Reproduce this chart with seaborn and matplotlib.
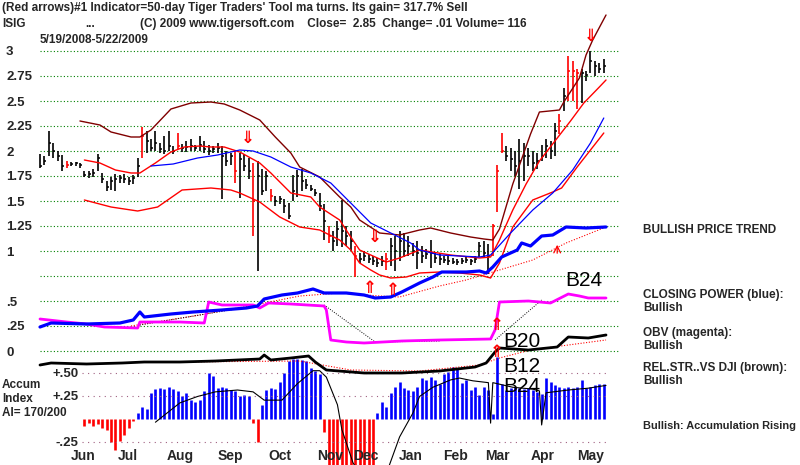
import numpy as np
import pandas as pd
import seaborn as sns
import matplotlib
matplotlib.use("Agg")
import matplotlib.pyplot as plt

# ---- price bars, one bar every 2 trading days from 5/19/2008 ----
bar_day = np.arange(0, 256, 2)
bar_high = [1.97, 1.95, 2.20, 2.08, 2.00, 1.96, 1.90, 1.89, 1.89, 1.88,
            1.80, 1.80, 1.82, 1.97, 1.78, 1.70, 1.74, 1.77, 1.76, 1.77,
            1.74, 1.76, 1.93, 2.24, 2.20, 2.12, 2.20, 2.08, 2.15, 2.20,
            2.05, 2.18, 2.07, 2.10, 2.12, 2.06, 2.15, 2.10, 2.06, 2.05,
            2.08, 2.05, 2.00, 1.98, 2.00, 1.98, 1.97, 1.93, 1.88, 1.90,
            1.82, 1.80, 1.62, 1.55, 1.55, 1.52, 1.48, 1.76, 1.81, 1.82,
            1.72, 1.66, 1.62, 1.58, 1.47, 1.25, 1.20, 1.30, 1.51, 1.25,
            1.20, 1.05, 0.98, 1.00, 0.97, 0.95, 0.93, 0.95, 0.98, 1.13,
            1.15, 1.20, 1.18, 1.15, 1.08, 1.10, 1.05, 1.02, 1.11, 0.98,
            0.98, 0.95, 0.95, 0.93, 0.92, 0.93, 0.95, 0.92, 0.95, 1.09,
            1.10, 1.07, 1.27, 1.86, 2.18, 2.05, 2.03, 2.00, 2.12, 2.08,
            2.03, 2.00, 1.98, 2.06, 2.12, 2.10, 2.28, 2.37, 2.63, 2.95,
            2.90, 2.82, 2.82, 2.80, 3.00, 2.90, 2.88, 2.92]
bar_low = [1.83, 1.86, 1.95, 1.93, 1.90, 1.80, 1.83, 1.85, 1.85, 1.83,
           1.74, 1.73, 1.74, 1.80, 1.68, 1.60, 1.61, 1.60, 1.68, 1.68,
           1.66, 1.67, 1.74, 1.93, 1.98, 2.00, 2.00, 1.98, 1.97, 2.00,
           1.97, 2.02, 1.99, 1.99, 2.00, 2.00, 2.00, 1.98, 1.96, 1.98,
           1.98, 1.52, 1.85, 1.86, 1.68, 1.53, 1.80, 1.72, 1.15, 0.80,
           1.56, 1.60, 1.50, 1.45, 1.47, 1.38, 1.32, 1.50, 1.54, 1.60,
           1.62, 1.60, 1.55, 1.40, 1.11, 1.08, 1.00, 1.05, 1.04, 1.05,
           1.00, 0.74, 0.88, 0.90, 0.88, 0.86, 0.84, 0.85, 0.81, 0.85,
           0.80, 0.90, 0.94, 0.95, 0.95, 0.82, 0.88, 0.92, 0.83, 0.88,
           0.86, 0.88, 0.86, 0.87, 0.86, 0.87, 0.88, 0.86, 0.88, 0.94,
           0.93, 0.77, 0.95, 1.39, 1.98, 1.90, 1.80, 1.75, 1.62, 1.70,
           1.85, 1.80, 1.82, 1.90, 1.93, 1.92, 1.95, 2.17, 2.40, 2.50,
           2.50, 2.42, 2.48, 2.70, 2.78, 2.75, 2.78, 2.78]
bar_close = [1.85, 1.90, 2.08, 2.00, 1.95, 1.85, 1.86, 1.87, 1.88, 1.86,
             1.76, 1.77, 1.78, 1.93, 1.72, 1.64, 1.70, 1.72, 1.73, 1.72,
             1.70, 1.73, 1.85, 2.15, 2.10, 2.03, 2.08, 2.02, 2.00, 2.05,
             2.00, 2.05, 2.03, 2.04, 2.05, 2.03, 2.06, 2.02, 2.00, 2.02,
             2.03, 1.95, 1.90, 1.95, 1.80, 1.92, 1.85, 1.80, 1.50, 1.75,
             1.60, 1.75, 1.55, 1.50, 1.52, 1.45, 1.35, 1.60, 1.75, 1.70,
             1.66, 1.62, 1.58, 1.45, 1.30, 1.15, 1.10, 1.22, 1.20, 1.15,
             1.10, 0.95, 0.92, 0.95, 0.92, 0.90, 0.88, 0.90, 0.92, 1.05,
             1.00, 1.10, 1.00, 1.05, 1.00, 0.98, 0.95, 0.97, 0.98, 0.93,
             0.92, 0.91, 0.90, 0.89, 0.89, 0.90, 0.91, 0.90, 0.92, 1.05,
             0.98, 0.95, 1.25, 1.80, 2.00, 1.95, 1.92, 1.85, 1.90, 1.95,
             1.95, 1.88, 1.90, 1.95, 2.05, 2.00, 2.20, 2.30, 2.55, 2.80,
             2.80, 2.78, 2.78, 2.76, 2.90, 2.85, 2.82, 2.85]
red_bars = [6, 23, 31, 44, 48, 52, 65, 71, 78, 102, 103, 104, 117, 119, 120, 121]

# ---- bands and moving averages (price units) ----
upper_day = [18, 27, 32, 41, 45, 50, 59, 68, 77, 83, 90, 99, 106, 113, 117, 126, 135, 140,
             144, 153, 162, 171, 176, 185, 194, 200, 204, 207, 213, 221, 225, 234, 236, 243,
             246, 249, 255]
upper_val = [2.30, 2.26, 2.19, 2.14, 2.14, 2.21, 2.42, 2.48, 2.49, 2.47, 2.41, 2.31, 2.14,
             1.98, 1.84, 1.74, 1.54, 1.44, 1.31, 1.18, 1.16, 1.21, 1.23, 1.18, 1.14, 1.12,
             1.11, 1.22, 1.67, 2.17, 2.39, 2.41, 2.49, 2.73, 2.96, 3.11, 3.36]
mid_day = [20, 27, 34, 41, 45, 52, 59, 65, 72, 77, 83, 90, 99, 104, 113, 122, 126, 135,
           140, 144, 149, 156, 162, 171, 185, 198, 203, 207, 213, 219, 225, 232, 239, 245,
           252, 255]
mid_val = [1.91, 1.88, 1.81, 1.78, 1.78, 1.88, 1.99, 2.04, 2.05, 2.04, 2.04, 1.99, 1.88,
           1.78, 1.58, 1.54, 1.44, 1.31, 1.14, 1.01, 0.96, 0.89, 0.93, 1.01, 0.96, 0.93,
           0.94, 1.11, 1.41, 1.67, 1.90, 2.10, 2.30, 2.48, 2.64, 2.71]
lower_day = [20, 32, 44, 53, 64, 77, 86, 90, 99, 108, 117, 126, 135, 140, 144, 149, 153,
             158, 165, 171, 180, 189, 198, 203, 207, 213, 222, 231, 235, 242, 248, 254]
lower_val = [1.51, 1.44, 1.40, 1.44, 1.61, 1.63, 1.61, 1.58, 1.49, 1.34, 1.24, 1.21, 1.11,
             1.01, 0.88, 0.81, 0.76, 0.73, 0.74, 0.78, 0.79, 0.78, 0.76, 0.73, 0.88, 1.24,
             1.51, 1.59, 1.63, 1.84, 2.01, 2.18]
ma50_day = [50, 60, 71, 80, 90, 96, 104, 113, 122, 131, 140, 149, 158, 167, 171, 180, 189,
            198, 203, 212, 222, 231, 240, 248, 254]
ma50_val = [1.85, 1.87, 1.93, 1.96, 2.01, 2.00, 1.94, 1.84, 1.78, 1.68, 1.48, 1.28, 1.18,
            1.08, 1.01, 0.96, 0.95, 0.94, 0.96, 1.18, 1.41, 1.58, 1.81, 2.08, 2.33]

# ---- closing power, OBV, relative strength (plotted in price units) ----
cp_day = [0, 5, 21, 36, 42, 45, 47, 59, 69, 82, 93, 98, 101, 109, 116, 123, 128, 138, 146,
          151, 158, 163, 171, 177, 181, 192, 198, 201, 204, 208, 215, 217, 221, 226, 231,
          237, 246, 255]
cp_val = [0.24, 0.28, 0.27, 0.28, 0.31, 0.39, 0.34, 0.37, 0.39, 0.41, 0.43, 0.45, 0.52,
          0.56, 0.58, 0.62, 0.58, 0.58, 0.56, 0.53, 0.54, 0.59, 0.68, 0.74, 0.79, 0.79,
          0.80, 0.78, 0.84, 0.94, 1.01, 1.08, 1.05, 1.15, 1.16, 1.24, 1.23, 1.24]
cp_ma_day = [41, 72, 99, 117, 135, 153, 162, 180, 192, 207, 222, 237, 255]
cp_ma_val = [0.25, 0.36, 0.47, 0.55, 0.58, 0.55, 0.54, 0.65, 0.71, 0.81, 0.91, 1.08, 1.24]
obv_day = [0, 12, 21, 29, 44, 45, 63, 74, 76, 82, 96, 99, 103, 113, 128, 129, 131, 138,
           146, 163, 180, 203, 205, 207, 220, 230, 238, 243, 247, 255]
obv_val = [0.32, 0.29, 0.27, 0.24, 0.23, 0.29, 0.29, 0.28, 0.49, 0.46, 0.46, 0.43, 0.48,
           0.47, 0.45, 0.41, 0.11, 0.09, 0.08, 0.10, 0.11, 0.12, 0.21, 0.49, 0.50, 0.48,
           0.57, 0.55, 0.53, 0.53]
rs_day = [0, 5, 21, 37, 47, 63, 79, 99, 101, 104, 113, 121, 124, 129, 146, 163, 180, 196,
          201, 205, 207, 220, 233, 238, 247, 255]
rs_val = [-0.14, -0.12, -0.13, -0.12, -0.11, -0.11, -0.10, -0.08, -0.04, -0.09, -0.07,
          -0.05, -0.11, -0.19, -0.22, -0.22, -0.20, -0.16, -0.12, -0.01, 0.03, 0.01, 0.04,
          0.14, 0.13, 0.16]
rs_ma_day = [60, 117, 140, 171, 198, 207, 221, 255]
rs_ma_val = [-0.11, -0.10, -0.19, -0.20, -0.14, -0.07, 0.01, 0.11]
trend_lines = [([45, 99], [0.26, 0.46]), ([128, 151, 180], [0.46, 0.09, 0.10]),
               ([205, 226], [0.11, 0.51])]

# ---- accumulation index ----
ai_day = np.arange(20, 256, 2)
ai_val = [-0.08, -0.05, -0.08, -0.06, -0.10, -0.12, -0.25, -0.34, -0.24, -0.18,
          -0.10, -0.03, 0.06, 0.13, 0.10, 0.28, 0.32, 0.33, 0.32, 0.34,
          0.32, 0.30, 0.24, 0.28, 0.20, 0.18, 0.20, 0.30, 0.50, 0.46,
          0.33, 0.34, 0.33, 0.31, 0.30, 0.25, 0.26, 0.25, -0.05, -0.26,
          0.15, 0.31, 0.33, 0.32, 0.40, 0.50, 0.62, 0.65, 0.65, 0.64,
          0.62, 0.55, 0.52, 0.48, -0.15, -0.58, -0.62, -0.65, -0.60, -0.70,
          -0.66, -0.60, -0.64, -0.60, -0.58, -0.55, 0.06, 0.18, 0.13, 0.28,
          0.34, 0.40, 0.33, 0.31, 0.30, 0.34, 0.44, 0.42, 0.45, 0.42,
          0.38, 0.48, 0.51, 0.56, 0.54, 0.39, 0.42, 0.31, 0.34, 0.26,
          0.34, 0.31, 0.05, 0.67, 0.38, 0.31, 0.33, 0.34, 0.33, 0.32,
          0.33, 0.31, 0.29, 0.27, 0.44, 0.40, 0.36, 0.34, 0.33, 0.34,
          0.33, 0.34, 0.42, 0.33, 0.34, 0.36, 0.38, 0.38]
ai_ma_day = [52, 63, 71, 79, 89, 96, 101, 109, 116, 123, 126, 129, 134, 136, 141, 144, 156,
             162, 168, 171, 177, 185, 189, 195, 202, 203, 204, 213, 222, 225, 226, 228, 238,
             247, 255]
ai_ma_val = [-0.04, 0.17, 0.24, 0.29, 0.31, 0.29, 0.20, 0.20, 0.38, 0.52, 0.52, 0.45, 0.15,
             -0.12, -0.48, -0.60, -0.60, -0.20, 0.06, 0.24, 0.34, 0.42, 0.44, 0.41, 0.39,
             -0.05, 0.39, 0.34, 0.32, 0.30, -0.07, 0.28, 0.31, 0.33, 0.36]

price_ticks = [3, 2.75, 2.5, 2.25, 2, 1.75, 1.5, 1.25, 1, 0.5, 0.25, 0]
price_labels = ['3', '2.75', '2.5', '2.25', '2', '1.75', '1.5', '1.25', '1', '.5', '.25', '0']
grid_levels = [3, 2.75, 2.5, 2.25, 2, 1.75, 1.5, 1.25, 1, 0.75, 0.5, 0.25, 0]
ai_ticks = [0.5, 0.25, -0.25]
ai_labels = ['+.50', '+.25', '-.25']
month_day = [19.4, 39.6, 63.1, 85.6, 108.1, 130.6, 146.8, 167.1, 187.4, 206.3, 226.6, 248.2]
month_labels = ['Jun', 'Jul', 'Aug', 'Sep', 'Oct', 'Nov', 'Dec', 'Jan', 'Feb', 'Mar', 'Apr', 'May']

down_arrows = [(93.7, 2.13), (150.7, 1.14), (248.0, 3.15)]
up_arrows = [(148.4, 0.63), (158.8, 0.61), (205.9, 0.26), (205.9, -0.01)]
signal_labels = [('B24', 236.5, 0.70), ('B20', 208.5, 0.10), ('B12', 208.5, -0.15), ('B24', 208.5, -0.35)]

sns.set_theme(style="white")
plt.rcParams['font.family'] = ['Liberation Sans', 'DejaVu Sans']

fig = plt.figure(figsize=(8, 4.65), dpi=100)
pos = [38 / 800, 0, 582 / 800, 1]
ax_ai = fig.add_axes(pos)
ax = fig.add_axes(pos, sharex=ax_ai)
ax.patch.set_alpha(0)

# accumulation index histogram
ai_col = ['#0000ff' if v >= 0 else '#ff0000' for v in ai_val]
ax_ai.vlines(ai_day, 0, ai_val, colors=ai_col, lw=1.9)
sns.lineplot(x=ai_ma_day, y=ai_ma_val, ax=ax_ai, color='black', lw=0.8, estimator=None, sort=False)
ax_ai.hlines(ai_ticks, 19, 256, colors='#a06080', linestyles=(0, (1, 4)), lw=0.8)
ax_ai.set_ylim(-0.505, 4.549)
ax_ai.set_yticks(ai_ticks)
ax_ai.set_yticklabels(ai_labels, fontsize=9.5, fontweight='bold')
ax_ai.tick_params(axis='y', length=0, pad=-29)
ax_ai.tick_params(axis='x', length=0, labelbottom=False)

# price panel
ax.hlines(grid_levels, 0, 261, colors='#008000', linestyles=(0, (1, 2)), lw=0.8)
bar_col = ['#ff0000' if i in red_bars else 'black' for i in range(len(bar_day))]
ax.vlines(bar_day, bar_low, bar_high, colors=bar_col, lw=1.2)
ax.hlines(bar_close, bar_day, bar_day + 0.9, colors=bar_col, lw=1.1)

sns.lineplot(x=upper_day, y=upper_val, ax=ax, color='#800000', lw=1.0, estimator=None, sort=False)
sns.lineplot(x=mid_day, y=mid_val, ax=ax, color='#ff0000', lw=1.0, estimator=None, sort=False)
sns.lineplot(x=lower_day, y=lower_val, ax=ax, color='#ff0000', lw=1.0, estimator=None, sort=False)
sns.lineplot(x=ma50_day, y=ma50_val, ax=ax, color='#0000ff', lw=0.9, estimator=None, sort=False)

sns.lineplot(x=cp_ma_day, y=cp_ma_val, ax=ax, color='#ff0000', lw=0.8, ls=(0, (1, 1.5)), estimator=None, sort=False)
sns.lineplot(x=rs_ma_day, y=rs_ma_val, ax=ax, color='#ff0000', lw=0.8, ls=(0, (1, 1.5)), estimator=None, sort=False)
for tx, ty in trend_lines:
    sns.lineplot(x=tx, y=ty, ax=ax, color='black', lw=0.7, ls=(0, (1, 1.5)), estimator=None, sort=False)
sns.lineplot(x=obv_day, y=obv_val, ax=ax, color='#ff00ff', lw=2.0, estimator=None, sort=False)
sns.lineplot(x=cp_day, y=cp_val, ax=ax, color='#0000ff', lw=2.3, estimator=None, sort=False)
sns.lineplot(x=rs_day, y=rs_val, ax=ax, color='black', lw=2.0, estimator=None, sort=False)

for x, y in down_arrows:
    ax.text(x, y, '\u21d3', color='#ff0000', fontsize=12, ha='center', va='center',
            family='DejaVu Sans', fontweight='bold')
for x, y in up_arrows:
    ax.text(x, y, '\u21d1', color='#ff0000', fontsize=12, ha='center', va='center',
            family='DejaVu Sans', fontweight='bold')
ax.annotate('', xy=(233, 1.09), xytext=(233, 0.95),
            arrowprops=dict(arrowstyle='->', color='#ff0000', lw=0.9))
for s, x, y in signal_labels:
    ax.text(x, y, s, fontsize=15, ha='left', va='center', color='black')

ax.set_xlim(-0.9, 261.3)
ax.set_ylim(-1.14, 3.51)
ax.set_yticks(price_ticks)
ax.set_yticklabels(price_labels, fontsize=9.5, fontweight='bold')
for lab in ax.get_yticklabels():
    lab.set_horizontalalignment('left')
ax.tick_params(axis='y', length=0, pad=23)
ax.set_xticks(month_day)
ax.set_xticklabels(month_labels, fontsize=10, fontweight='bold')
ax.tick_params(axis='x', length=0, pad=-11.5)
ax.set_xlabel('')
ax.set_ylabel('')
ax_ai.set_xlabel('')
ax_ai.set_ylabel('')
for a in (ax, ax_ai):
    for sp in a.spines.values():
        sp.set_visible(False)
    a.grid(False)

hdr = dict(fontsize=8.5, fontweight='bold', family=['Liberation Sans Narrow', 'Liberation Sans'],
           va='center', ha='left')
fig.text(2 / 800, 1 - 8 / 465, "(Red arrows)#1 Indicator=50-day Tiger Traders' Tool ma turns. Its gain= 317.7% Sell", **hdr)
fig.text(2 / 800, 1 - 24 / 465, "ISIG", **hdr)
fig.text(85 / 800, 1 - 24 / 465, "...", **hdr)
fig.text(140 / 800, 1 - 24 / 465, "(C) 2009 www.tigersoft.com    Close=  2.85  Change= .01 Volume= 116", **hdr)
fig.text(40 / 800, 1 - 40 / 465, "5/19/2008-5/22/2009", **hdr)

side = dict(fontsize=8.5, fontweight='bold', va='center', ha='left')
fig.text(2 / 800, 1 - 385 / 465, "Accum", **side)
fig.text(2 / 800, 1 - 399 / 465, "Index", **side)
fig.text(2 / 800, 1 - 413 / 465, "AI= 170/200", **side)

right_text = [("BULLISH PRICE TREND", 230), ("CLOSING POWER (blue):", 295), ("Bullish", 308),
              ("OBV (magenta):", 333), ("Bullish", 346), ("REL.STR..VS DJI (brown):", 368),
              ("Bullish", 381)]
for s, y in right_text:
    fig.text(643 / 800, 1 - y / 465, s, **side)
fig.text(643 / 800, 1 - 426 / 465, "Bullish: Accumulation Rising", fontsize=7.9,
         fontweight='bold', va='center', ha='left')

fig.savefig('out.png', dpi=100)
